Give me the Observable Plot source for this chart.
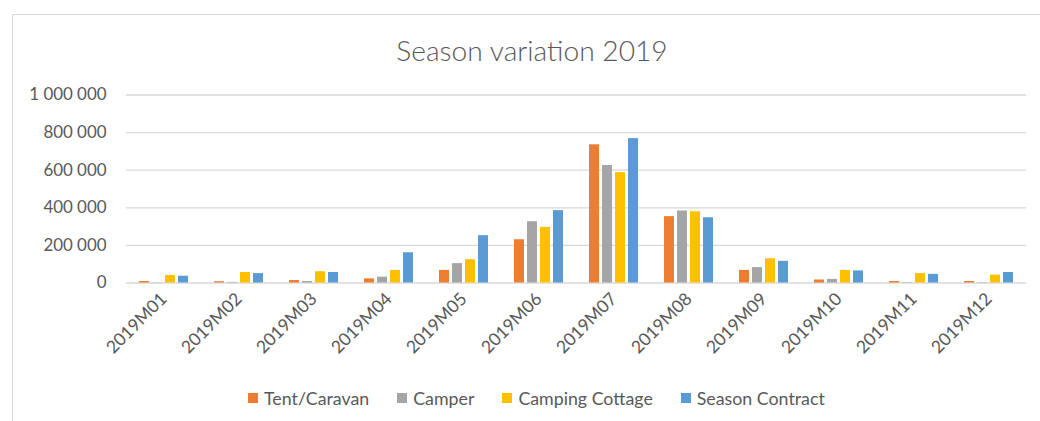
<!DOCTYPE html>
<html>
<head>
<meta charset="utf-8">
<script src="https://cdn.jsdelivr.net/npm/d3@7"></script>
<script src="https://cdn.jsdelivr.net/npm/@observablehq/plot@0.6"></script>
<style>
  html, body { margin: 0; padding: 0; background: #fff; }
  #wrap { position: relative; width: 1040px; height: 421px; overflow: hidden; font-family: Lato, "Open Sans", sans-serif; color: #595959; }
  #frame { position: absolute; left: 12px; top: 14px; width: 1100px; height: 500px; border: 1px solid #d9d9d9; box-sizing: border-box; }
  #title { position: absolute; left: 0; top: 31px; width: 1064px; text-align: center; font-size: 28.2px; font-weight: 300; line-height: 38px; }
  #chart { position: absolute; left: 0; top: 0; }
  #legend { position: absolute; left: 248px; top: 386px; display: flex; gap: 28px; font-size: 17.8px; line-height: 24px; white-space: nowrap; }
  #legend .item { display: flex; align-items: center; gap: 6px; }
  #legend .sw { width: 10px; height: 10px; display: inline-block; }
</style>
</head>
<body>
<div id="wrap">
  <div id="frame"></div>
  <div id="title">Season variation 2019</div>
  <div id="chart"></div>
  <div id="legend"></div>
</div>
<script>
const months = ["2019M01","2019M02","2019M03","2019M04","2019M05","2019M06","2019M07","2019M08","2019M09","2019M10","2019M11","2019M12"];
const seriesNames = ["Tent/Caravan","Camper","Camping Cottage","Season Contract"];
const seriesColors = ["#ED7D31","#A5A5A5","#FFC000","#5B9BD5"];
const tentCaravan    = [8000, 7000, 13000, 22000, 67000, 230000, 735000, 353000, 67000, 16000, 8000, 8000];
const camper         = [1000, 3000, 8000, 31000, 103000, 326000, 625000, 383000, 82000, 19000, 2000, 2000];
const campingCottage = [40000, 56000, 60000, 67000, 124000, 296000, 587000, 379000, 129000, 67000, 50000, 42000];
const seasonContract = [36000, 50000, 56000, 161000, 252000, 385000, 768000, 347000, 115000, 64000, 46000, 56000];
const yTicks = [0, 200000, 400000, 600000, 800000, 1000000];

const seriesValues = [tentCaravan, camper, campingCottage, seasonContract];
const data = months.flatMap((m, i) => seriesNames.map((s, j) => ({month: m, series: s, value: seriesValues[j][i]})));

const fmt = d => d3.format(",")(d).replace(/,/g, " ");

const chart = Plot.plot({
  width: 1040,
  height: 370,
  marginTop: 94.5,
  marginBottom: 87.5,
  marginLeft: 122,
  marginRight: 10,
  style: {fontFamily: "Lato, 'Open Sans', sans-serif", fontSize: "17px", color: "#595959", background: "transparent", overflow: "visible"},
  y: {domain: [0, 1000000], label: null},
  fx: {domain: months, padding: 0, label: null},
  x: {domain: seriesNames, axis: null, paddingInner: 0.24, paddingOuter: 0.865},
  color: {domain: seriesNames, range: seriesColors},
  marks: [
    Plot.ruleY(yTicks, {stroke: "#d9d9d9", strokeWidth: 1.3}),
    Plot.axisY(yTicks, {tickFormat: fmt, tickSize: 0, tickPadding: 20, fontSize: 16.9, label: null}),
    Plot.axisFx({anchor: "bottom", tickSize: 0, tickRotate: -45, tickPadding: 13, fontSize: 17.5, label: null}),
    Plot.barY(data, {fx: "month", x: "series", y: "value", fill: "series"})
  ]
});
document.getElementById("chart").appendChild(chart);

const legend = document.getElementById("legend");
seriesNames.forEach((s, i) => {
  const item = document.createElement("div");
  item.className = "item";
  const sw = document.createElement("span");
  sw.className = "sw";
  sw.style.background = seriesColors[i];
  const t = document.createElement("span");
  t.textContent = s;
  item.appendChild(sw);
  item.appendChild(t);
  legend.appendChild(item);
});
</script>
</body>
</html>
